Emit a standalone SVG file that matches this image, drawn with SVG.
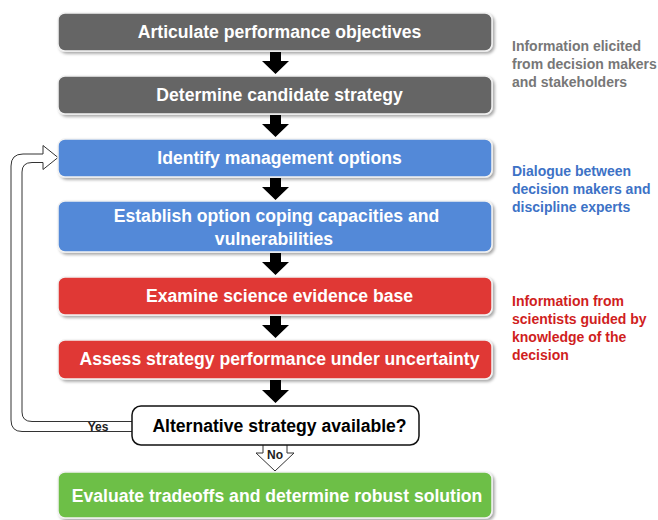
<svg xmlns="http://www.w3.org/2000/svg" width="658" height="520" viewBox="0 0 658 520">
  <defs>
    <filter id="shadow" x="-5%" y="-20%" width="110%" height="150%">
      <feDropShadow dx="2" dy="2" stdDeviation="1.4" flood-color="#000" flood-opacity="0.35"/>
    </filter>
  </defs>
  <style>
    .box { stroke: #f2f2f2; stroke-width: 1.5; filter: url(#shadow); }
    .gray { fill: #656565; }
    .blue { fill: #5289d8; }
    .red { fill: #e03835; }
    .green { fill: #6dbf46; }
    .label { font-family: "Liberation Sans", Arial, sans-serif; font-weight: bold; font-size: 17.6px; fill: #ffffff; text-anchor: middle; }
    .dark { fill: #000000; }
    .side { font-family: "Liberation Sans", Arial, sans-serif; font-weight: bold; font-size: 14px; }
    .small { font-family: "Liberation Sans", Arial, sans-serif; font-weight: bold; font-size: 12px; fill: #222; text-anchor: middle; }
    .flow { fill: #000000; }
    .hollow { fill: #ffffff; stroke: #333333; stroke-width: 1; }
  </style>

  <rect width="658" height="520" fill="#ffffff"/>

  <!-- connectors -->
  <g id="connectors">
    <path class="flow" d="M270,52 h11 v9 h8 l-13.5,13 l-13.5,-13 h8 z"/>
    <path class="flow" d="M270,115 h11 v9 h8 l-13.5,13 l-13.5,-13 h8 z"/>
    <path class="flow" d="M270,178 h11 v9 h8 l-13.5,13 l-13.5,-13 h8 z"/>
    <path class="flow" d="M270,253 h11 v9 h8 l-13.5,13 l-13.5,-13 h8 z"/>
    <path class="flow" d="M270,316 h11 v9 h8 l-13.5,13 l-13.5,-13 h8 z"/>
    <path class="flow" d="M270,380 h11 v10 h8 l-13.5,13 l-13.5,-13 h8 z"/>
    <!-- feedback loop back to management options -->
    <path class="hollow" d="M132,431.5 H22 Q11,431.5 11,420 V166 Q11,154 23,154 H43 V145.5 L58,157.5 L43,169.5 V162.5 H32 Q22,162.5 22,172 V412 Q22,421.5 32,421.5 H132"/>
    <text class="small" x="98" y="431">Yes</text>
    <!-- exit to final step -->
    <path class="hollow" d="M263,445 V453 H256 L275,471 L294,453 H287 V445"/>
    <text class="small" x="275" y="459">No</text>
  </g>

  <g id="objectives">
    <rect class="box gray" x="58" y="13" width="434" height="38" rx="7"/>
    <text class="label" x="279.5" y="38">Articulate performance objectives</text>
  </g>
  <g id="candidate">
    <rect class="box gray" x="58" y="76" width="434" height="38" rx="7"/>
    <text class="label" x="279.5" y="101">Determine candidate strategy</text>
  </g>
  <g id="options">
    <rect class="box blue" x="58" y="139" width="434" height="38" rx="7"/>
    <text class="label" x="279.5" y="164">Identify management options</text>
  </g>
  <g id="capacities">
    <rect class="box blue" x="58" y="201" width="434" height="51" rx="7"/>
    <text class="label" x="276.5" y="222">Establish option coping capacities and</text>
    <text class="label" x="274" y="245">vulnerabilities</text>
  </g>
  <g id="evidence">
    <rect class="box red" x="58" y="277" width="434" height="38" rx="7"/>
    <text class="label" x="279.5" y="302">Examine science evidence base</text>
  </g>
  <g id="assess">
    <rect class="box red" x="58" y="340" width="434" height="39" rx="7"/>
    <text class="label" x="279.5" y="365">Assess strategy performance under uncertainty</text>
  </g>
  <g id="decision">
    <rect x="132" y="406" width="287" height="39" rx="9" fill="#ffffff" stroke="#111111" stroke-width="1.5"/>
    <text class="label dark" x="279.5" y="432">Alternative strategy available?</text>
  </g>
  <g id="tradeoffs">
    <rect class="box green" x="58" y="472" width="434" height="46" rx="7"/>
    <text class="label" x="277" y="502">Evaluate tradeoffs and determine robust solution</text>
  </g>

  <g id="notes">
    <text class="side" fill="#777777" x="512" y="51">Information elicited</text>
    <text class="side" fill="#777777" x="512" y="69">from decision makers</text>
    <text class="side" fill="#777777" x="512" y="87">and stakeholders</text>
    <text class="side" fill="#3d72c6" x="512" y="176">Dialogue between</text>
    <text class="side" fill="#3d72c6" x="512" y="194">decision makers and</text>
    <text class="side" fill="#3d72c6" x="512" y="212">discipline experts</text>
    <text class="side" fill="#d01e1e" x="512" y="306">Information from</text>
    <text class="side" fill="#d01e1e" x="512" y="324">scientists guided by</text>
    <text class="side" fill="#d01e1e" x="512" y="342">knowledge of the</text>
    <text class="side" fill="#d01e1e" x="512" y="360">decision</text>
  </g>
</svg>
